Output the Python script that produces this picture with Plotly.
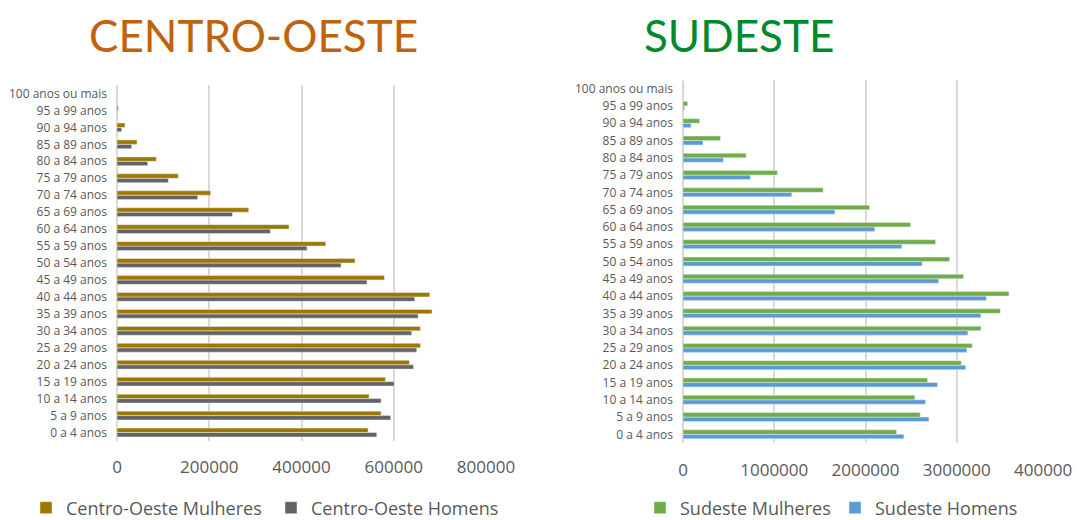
import plotly.graph_objects as go

# Age groups, listed from youngest (bottom) to oldest (top)
age_groups = ["0 a 4 anos", "5 a 9 anos", "10 a 14 anos", "15 a 19 anos", "20 a 24 anos",
              "25 a 29 anos", "30 a 34 anos", "35 a 39 anos", "40 a 44 anos", "45 a 49 anos",
              "50 a 54 anos", "55 a 59 anos", "60 a 64 anos", "65 a 69 anos", "70 a 74 anos",
              "75 a 79 anos", "80 a 84 anos", "85 a 89 anos", "90 a 94 anos", "95 a 99 anos",
              "100 anos ou mais"]

co_mulheres = [544300, 572500, 546400, 581900, 633900, 657800, 657800, 683000, 678000, 579700,
               516100, 452500, 373000, 285500, 203100, 133000, 85300, 43400, 17300, 2900, 700]
co_homens = [563100, 593400, 572500, 600700, 642600, 649800, 639000, 652700, 645500, 542100,
             485700, 412000, 332500, 250100, 174900, 111300, 66500, 31800, 10100, 1300, 300]

se_mulheres = [2340000, 2599600, 2541100, 2680000, 3049400, 3170000, 3265100, 3477100, 3572200, 3074900,
               2921400, 2767800, 2493600, 2043900, 1535600, 1034700, 691000, 409500, 182800, 51200, 9000]
se_homens = [2420500, 2694700, 2658100, 2789800, 3096900, 3111500, 3122500, 3265100, 3323600, 2800700,
             2621600, 2398500, 2102400, 1663600, 1192000, 738600, 442400, 219400, 87800, 14600, 3000]

co_ticks = [0, 200000, 400000, 600000, 800000]
se_ticks = [0, 1000000, 2000000, 3000000, 4000000]

# The page body has an 8px margin, so the figure is sized to fill the rest of the window
OFF = 8
W, H = 1081 - OFF, 520 - OFF


def px(x):
    return (x - OFF) / W


def py(y):
    return 1 - (y - OFF) / H


C_GOLD = "#9C7800"
C_GRAY = "#636363"
C_GREEN = "#70AD47"
C_BLUE = "#5B9BD5"
GRID = "#D9D9D9"
FONT = "Open Sans, Noto Sans, sans-serif"
TITLE_FONT = "Lato, Open Sans, sans-serif"

fig = go.Figure()

# Homens first so that Mulheres sits above within each group
fig.add_trace(go.Bar(y=age_groups, x=co_homens, orientation="h", name="Centro-Oeste Homens",
                     marker_color=C_GRAY, xaxis="x", yaxis="y", legend="legend", legendrank=2))
fig.add_trace(go.Bar(y=age_groups, x=co_mulheres, orientation="h", name="Centro-Oeste Mulheres",
                     marker_color=C_GOLD, xaxis="x", yaxis="y", legend="legend", legendrank=1))
fig.add_trace(go.Bar(y=age_groups, x=se_homens, orientation="h", name="Sudeste Homens",
                     marker_color=C_BLUE, xaxis="x2", yaxis="y2", legend="legend2", legendrank=2))
fig.add_trace(go.Bar(y=age_groups, x=se_mulheres, orientation="h", name="Sudeste Mulheres",
                     marker_color=C_GREEN, xaxis="x2", yaxis="y2", legend="legend2", legendrank=1))

xcommon = dict(showgrid=True, gridcolor=GRID, gridwidth=2, zeroline=True, zerolinecolor=GRID,
               zerolinewidth=2, showline=False, tickfont=dict(family=FONT, size=17, color="#595959"),
               ticks="", fixedrange=True, automargin=False, ticklabeloverflow="allow")
ycommon = dict(type="category", categoryorder="array", categoryarray=age_groups, showgrid=False,
               zeroline=False, showline=False, tickfont=dict(family=FONT, size=12, color="#595959"),
               ticks="", ticklabelstandoff=9, fixedrange=True, automargin=False)

fig.update_layout(
    width=W, height=H,
    margin=dict(l=0, r=0, t=0, b=0, autoexpand=False),
    paper_bgcolor="white", plot_bgcolor="white",
    barmode="group", bargap=0.48, bargroupgap=0,
    showlegend=True,
    xaxis=dict(domain=[px(117), px(486)], range=[0, 800000], tickvals=co_ticks,
               ticktext=[str(v) for v in co_ticks], anchor="y", ticklabelstandoff=14, **xcommon),
    yaxis=dict(domain=[py(441), py(85)], range=[-0.5, 20.5], anchor="x", **ycommon),
    xaxis2=dict(domain=[px(683), px(1048)], range=[0, 4000000], tickvals=se_ticks,
                ticktext=[str(v) for v in se_ticks], anchor="y2", ticklabelstandoff=15, **xcommon),
    yaxis2=dict(domain=[py(443), py(80)], range=[-0.5, 20.5], anchor="x2", **ycommon),
    legend=dict(orientation="h", x=px(26), y=py(508), xanchor="left", yanchor="middle",
                font=dict(family=FONT, size=18, color="#595959"), itemwidth=30,
                entrywidth=200, traceorder="normal", bgcolor="rgba(0,0,0,0)"),
    legend2=dict(orientation="h", x=px(640), y=py(508), xanchor="left", yanchor="middle",
                 font=dict(family=FONT, size=18, color="#595959"), itemwidth=30,
                 entrywidth=150, traceorder="normal", bgcolor="rgba(0,0,0,0)"),
    annotations=[
        dict(text="CENTRO-OESTE", x=px(253), y=py(35), xref="paper", yref="paper",
             xanchor="center", yanchor="middle", showarrow=False,
             font=dict(family=TITLE_FONT, size=44, color="#BF630C")),
        dict(text="SUDESTE", x=px(739), y=py(35), xref="paper", yref="paper",
             xanchor="center", yanchor="middle", showarrow=False,
             font=dict(family=TITLE_FONT, size=44, color="#008A2B")),
    ],
)

fig.write_html("out.html")
